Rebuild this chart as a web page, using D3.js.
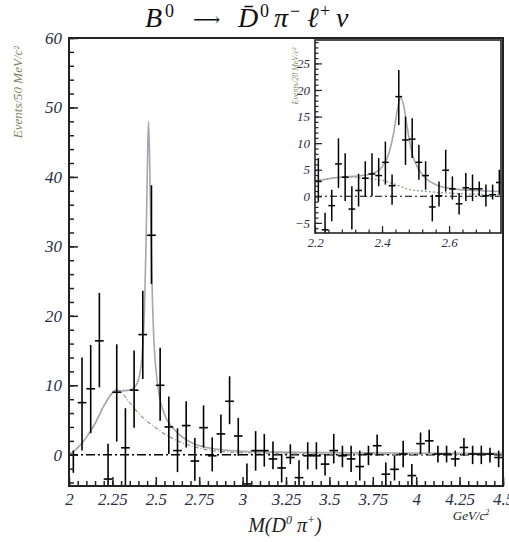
<!DOCTYPE html>
<html>
<head>
<meta charset="utf-8">
<script src="https://cdn.jsdelivr.net/npm/d3@7"></script>
<style>
  body { margin: 0; background: #fff; }
  text { font-family: "Liberation Serif", "DejaVu Serif", serif; }
</style>
</head>
<body>
<div id="chart"></div>
<script>
const width = 509;
const height = 542;

// main histogram: 50 MeV bins from 2.0 to 4.5 GeV
const mainBinStart = 2.0;
const mainBinWidth = 0.05;
const mainCounts = [0, 7.5, 9.5, 16.4, -3.5, 9.0, 1.0, 9.3, 17.3, 31.6,
  10, 4.0, 0.6, 4.2, -0.9, 3.9, -0.15, 3.0, 7.7, 2.7,
  -4.2, 0.6, 0.6, -0.6, -1.9, -0.4, -3.3, -0.15, -0.15, -1.35,
  0.6, -0.15, -0.6, -1.7, 0.1, 1.3, -2.8, -2.1, 0.1, -3.0,
  1.6, 2.0, 0.1, 0.1, -0.6, 1.05, 0.1, 0.1, 0.1, -0.4];
const mainErrLow = [-2.6, 0.6, 3.1, 9.7, -8, 1.9, -4.6, 3.9, 10.9, 24.6,
  4.9, 0.1, -2.5, 1.05, -3.75, 1.05, -2.4, 0.2, 4.4, -0.15,
  -7, -2.3, -1.7, -2.1, -4, -1.35, -5.5, -2.1, -2.1, -3,
  -1.25, -1.8, -2.5, -3.7, -1.5, -0.15, -4.5, -3.7, -1.8, -4.5,
  0.1, 0.3, -1.1, -1.1, -1.7, -0.15, -1.35, -1.35, -1.1, -1.8];
const mainErrHigh = [0.6, 14, 15.8, 23.3, 1.6, 15.9, 6.7, 15, 23.6, 38.8,
  15.4, 8.4, 3.8, 7.7, 2.4, 7.1, 2.5, 5.8, 11.3, 5.3,
  -1.25, 3.4, 3.0, 1.9, 0.1, 1.5, -0.8, 1.8, 1.8, 0.1,
  3.0, 1.3, 1.3, 0.6, 1.3, 2.9, -1.1, -0.15, 2.0, -1.35,
  3.2, 3.6, 1.3, 1.3, 0.6, 2.4, 1.3, 1.3, 1.0, 0.6];

// fit curves
const mainBkgX = [2.0, 2.05, 2.1, 2.15, 2.2, 2.25, 2.27, 2.3, 2.35, 2.4, 2.45, 2.5, 2.55, 2.6, 2.7, 2.8, 3.0, 3.5, 4.5];
const mainBkgY = [0, 1, 2.5, 4.5, 7, 8.9, 9.3, 9.0, 7.5, 6.0, 4.8, 3.9, 3.0, 2.3, 1.3, 0.7, 0.3, 0.1, 0.05];
const mainFitX = [2.0, 2.05, 2.1, 2.15, 2.2, 2.25, 2.27, 2.3, 2.35, 2.38, 2.4, 2.42, 2.435, 2.445, 2.452, 2.458, 2.464, 2.472, 2.48, 2.49, 2.5, 2.52, 2.55, 2.6, 2.65, 2.7, 2.8, 3.0, 3.5, 4.5];
const mainFitY = [0, 1, 2.5, 4.5, 7, 8.9, 9.3, 9.2, 9.3, 9.8, 10.8, 14, 21, 32, 42, 48, 43, 32, 23, 16, 12.5, 8.5, 5.8, 3.8, 2.6, 1.8, 1.0, 0.5, 0.3, 0.2];

// inset: 20 MeV bins
const insetBinStart = 2.2;
const insetBinWidth = 0.02;
const insetCounts = [2.8, -6.3, -1.75, 6.1, 3.6, -2.4, 1.1, 3.4, 4.2, 3.9,
  6.4, 2.0, 18.75, 10.6, 10.75, 6.4, 3.9, -2.0, 0.1, 4.9,
  1.4, -1.4, 1.6, 1.4, 1.4, 0.1, 0.3, 2.6];
const insetErrLow = [-1.0, -9, -4.7, 1.6, -0.9, -6.25, -1.9, 0, 0, 1.9,
  2.2, -1.6, 13.4, 5.9, 7.2, 3.1, 1.25, -4.7, -1.9, 0.9,
  -0.6, -3.4, -0.9, -0.9, 0, -1.9, -0.6, 0.3];
const insetErrHigh = [7.2, -3.1, 1.25, 10.9, 8.1, 1.9, 4.25, 6.6, 8.1, 7.2,
  10.3, 4.1, 23.75, 15, 14.7, 9.7, 6.6, 0.3, 2.8, 8.75,
  3.75, 0.6, 4.4, 4.1, 2.8, 2.2, 2.2, 5];
const insetBkgX = [2.2, 2.25, 2.3, 2.35, 2.4, 2.45, 2.48, 2.52, 2.6, 2.68, 2.755];
const insetBkgY = [2.8, 3.4, 3.6, 3.4, 3.0, 2.0, 1.3, 1.0, 0.6, 0.4, 0.3];
const insetFitX = [2.2, 2.25, 2.3, 2.35, 2.38, 2.4, 2.42, 2.435, 2.445, 2.455, 2.465, 2.475, 2.49, 2.51, 2.53, 2.56, 2.6, 2.68, 2.755];
const insetFitY = [2.8, 3.4, 3.7, 4.0, 4.5, 5.5, 8, 12, 16, 18.5, 17, 13, 8, 5, 3.4, 2.2, 1.5, 1.1, 0.9];

const mainXTicks = [2, 2.25, 2.5, 2.75, 3, 3.25, 3.5, 3.75, 4, 4.25, 4.5];
const mainXLabels = ["2", "2.25", "2.5", "2.75", "3", "3.25", "3.5", "3.75", "4", "4.25", "4.5"];
const mainYTicks = [0, 10, 20, 30, 40, 50, 60];
const insetXTicks = [2.2, 2.4, 2.6];
const insetYTicks = [-5, 0, 5, 10, 15, 20, 25];

const svg = d3.select("#chart")
  .append("svg")
  .attr("width", width)
  .attr("height", height)
  .attr("viewBox", [0, 0, width, height]);

function makeBins(start, w, counts, lo, hi) {
  return counts.map((v, i) => ({ c: start + w * (i + 0.5), w: w, v: v, lo: lo[i], hi: hi[i] }));
}
function makeCurve(xs, ys) {
  return xs.map((x, i) => ({ x: x, y: ys[i] }));
}

function drawPanel(g, opt) {
  const x = d3.scaleLinear().domain(opt.xDomain).range(opt.xRange);
  const y = d3.scaleLinear().domain(opt.yDomain).range(opt.yRange);
  const [x0, x1] = opt.xRange;
  const [y1, y0] = opt.yRange;

  g.append("rect")
    .attr("x", x0).attr("y", y0)
    .attr("width", x1 - x0).attr("height", y1 - y0)
    .attr("fill", "white");

  const clipId = opt.id + "-clip";
  g.append("clipPath").attr("id", clipId)
    .append("rect")
    .attr("x", x0).attr("y", y0)
    .attr("width", x1 - x0).attr("height", y1 - y0);

  const plot = g.append("g").attr("clip-path", `url(#${clipId})`);

  // zero line
  plot.append("line")
    .attr("x1", x0).attr("x2", x1)
    .attr("y1", y(0)).attr("y2", y(0))
    .attr("stroke", "black")
    .attr("stroke-width", opt.zeroWidth)
    .attr("stroke-dasharray", opt.zeroDash);

  const line = d3.line().x(d => x(d.x)).y(d => y(d.y)).curve(d3.curveMonotoneX);

  plot.append("path")
    .datum(opt.bkg)
    .attr("fill", "none")
    .attr("stroke", "#86a286")
    .attr("stroke-width", 1.3)
    .attr("stroke-dasharray", opt.bkgDash)
    .attr("d", line);

  plot.append("path")
    .datum(opt.fit)
    .attr("fill", "none")
    .attr("stroke", "#aaa3b2")
    .attr("stroke-width", 1.6)
    .attr("d", line);

  const bars = plot.append("g")
    .attr("stroke", "black")
    .attr("stroke-width", opt.barWidth)
    .selectAll("g")
    .data(opt.bins)
    .join("g");
  bars.append("line")
    .attr("x1", d => x(d.c)).attr("x2", d => x(d.c))
    .attr("y1", d => y(d.lo)).attr("y2", d => y(d.hi));
  bars.append("line")
    .attr("x1", d => x(d.c - d.w / 2)).attr("x2", d => x(d.c + d.w / 2))
    .attr("y1", d => y(d.v)).attr("y2", d => y(d.v));

  // axes: minor ticks, then major ticks with labels
  g.append("g")
    .attr("transform", `translate(${x0},0)`)
    .call(d3.axisLeft(y).tickValues(opt.yMinor).tickSize(-opt.minorLen).tickFormat(""))
    .call(a => a.select(".domain").remove());
  g.append("g")
    .attr("transform", `translate(${x0},0)`)
    .call(d3.axisLeft(y).tickValues(opt.yTicks).tickSize(-opt.majorLen).tickPadding(opt.pad))
    .call(a => a.select(".domain").remove())
    .call(a => a.selectAll("text")
      .attr("font-size", opt.fontSize)
      .attr("font-style", "italic")
      .attr("font-family", "Liberation Serif")
      .attr("fill", "#2b2f45"));

  g.append("g")
    .attr("transform", `translate(0,${y1})`)
    .call(d3.axisBottom(x).tickValues(opt.xMinor).tickSize(-opt.minorLen).tickFormat(""))
    .call(a => a.select(".domain").remove());
  g.append("g")
    .attr("transform", `translate(0,${y1})`)
    .call(d3.axisBottom(x).tickValues(opt.xTicks).tickSize(-opt.majorLen).tickPadding(opt.pad)
      .tickFormat((d, i) => opt.xLabels[i]))
    .call(a => a.select(".domain").remove())
    .call(a => a.selectAll("text")
      .attr("font-size", opt.fontSize)
      .attr("font-style", "italic")
      .attr("font-family", "Liberation Serif")
      .attr("fill", "#2b2f45"));

  g.selectAll(".tick line").attr("stroke", "#222").attr("stroke-width", opt.tickWidth);

  g.append("rect")
    .attr("x", x0).attr("y", y0)
    .attr("width", x1 - x0).attr("height", y1 - y0)
    .attr("fill", "none")
    .attr("stroke", "#222")
    .attr("stroke-width", opt.frameWidth);
}

const mainYMinor = d3.range(-4, 61, 2);
const mainXMinor = d3.range(2, 4.5001, 0.05);

drawPanel(svg.append("g"), {
  id: "main",
  xDomain: [2, 4.5], xRange: [69, 503],
  yDomain: [-4.5, 60], yRange: [486, 38],
  bins: makeBins(mainBinStart, mainBinWidth, mainCounts, mainErrLow, mainErrHigh),
  bkg: makeCurve(mainBkgX, mainBkgY),
  fit: makeCurve(mainFitX, mainFitY),
  xTicks: mainXTicks, xLabels: mainXLabels, xMinor: mainXMinor,
  yTicks: mainYTicks, yMinor: mainYMinor,
  majorLen: 9, minorLen: 5, pad: 7, fontSize: 17,
  zeroDash: "9,3,2,3", zeroWidth: 1.3, bkgDash: "4,2,1,2",
  barWidth: 1.6, tickWidth: 1.5, frameWidth: 2
});

drawPanel(svg.append("g"), {
  id: "inset",
  xDomain: [2.2, 2.755], xRange: [315, 501],
  yDomain: [-6.9, 29.4], yRange: [233, 40],
  bins: makeBins(insetBinStart, insetBinWidth, insetCounts, insetErrLow, insetErrHigh),
  bkg: makeCurve(insetBkgX, insetBkgY),
  fit: makeCurve(insetFitX, insetFitY),
  xTicks: insetXTicks, xLabels: ["2.2", "2.4", "2.6"], xMinor: d3.range(2.2, 2.7501, 0.04),
  yTicks: insetYTicks, yMinor: d3.range(-6, 30, 1),
  majorLen: 7, minorLen: 3.5, pad: 5, fontSize: 13,
  zeroDash: "7,3,2,3", zeroWidth: 1.1, bkgDash: "2,2",
  barWidth: 1.5, tickWidth: 1.2, frameWidth: 1.6
});

// title, set piece by piece to get the wide math spacing
const titleParts = [
  { t: "B", x: 145, y: 27, size: 28, it: true },
  { t: "0", x: 165, y: 17, size: 18, it: false },
  { t: "\u27f6", x: 193, y: 26, size: 19, it: false },
  { t: "D\u0304", x: 238, y: 27, size: 28, it: true },
  { t: "0", x: 260, y: 17, size: 18, it: false },
  { t: "\u03c0", x: 274, y: 27, size: 28, it: true },
  { t: "\u2212", x: 290, y: 17, size: 18, it: false },
  { t: "\u2113", x: 307, y: 27, size: 28, it: true },
  { t: "+", x: 320, y: 17, size: 18, it: false },
  { t: "\u03bd", x: 336, y: 27, size: 28, it: true }
];
svg.append("g")
  .attr("fill", "#111")
  .selectAll("text")
  .data(titleParts)
  .join("text")
    .attr("x", d => d.x)
    .attr("y", d => d.y)
    .attr("font-size", d => d.size)
    .attr("font-style", d => d.it ? "italic" : "normal")
    .text(d => d.t);

svg.append("text")
  .attr("transform", "translate(22,92) rotate(-90)")
  .attr("text-anchor", "middle")
  .attr("font-size", 13)
  .attr("font-style", "italic")
  .attr("fill", "#7f7f5c")
  .text("Events/50 MeV/c\u00b2");

svg.append("text")
  .attr("transform", "translate(298,76) rotate(-90)")
  .attr("text-anchor", "middle")
  .attr("font-size", 8)
  .attr("font-style", "italic")
  .attr("fill", "#8a8a66")
  .text("Events/20 MeV/c\u00b2");

const xTitle = svg.append("text")
  .attr("x", 285).attr("y", 532)
  .attr("text-anchor", "middle")
  .attr("font-size", 20)
  .attr("font-style", "italic")
  .attr("fill", "#222");
xTitle.append("tspan").text("M(D");
xTitle.append("tspan").attr("dy", -8).attr("font-size", 12).text("0");
xTitle.append("tspan").attr("dy", 8).text(" \u03c0");
xTitle.append("tspan").attr("dy", -8).attr("font-size", 12).text("+");
xTitle.append("tspan").attr("dy", 8).text(")");

const unit = svg.append("text")
  .attr("x", 471).attr("y", 520)
  .attr("text-anchor", "middle")
  .attr("font-size", 13)
  .attr("font-style", "italic")
  .attr("fill", "#222");
unit.append("tspan").text("GeV/c");
unit.append("tspan").attr("dy", -5).attr("font-size", 8).text("2");
</script>
</body>
</html>
